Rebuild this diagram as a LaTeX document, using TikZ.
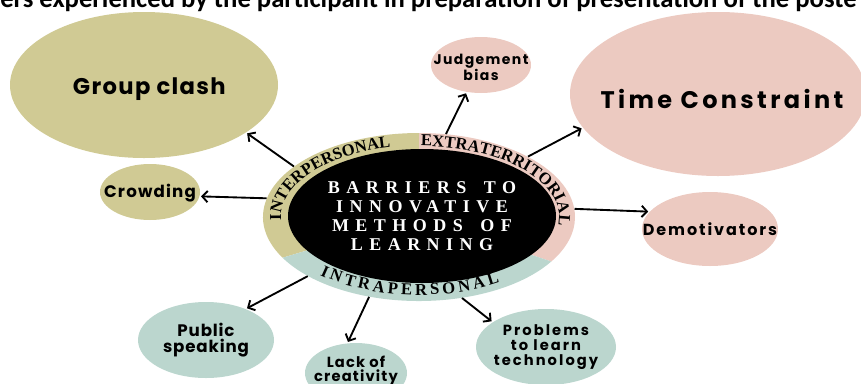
\documentclass[tikz,border=0pt]{standalone}
\usepackage{fontspec}
\setmainfont{Poppins}
\newfontfamily\serifring{Liberation Serif}
\newfontfamily\serifcore{Liberation Serif}[LetterSpace=36, WordSpace=1.6]
\newfontfamily\titlefont{Carlito}
\usetikzlibrary{shapes.geometric}
\usetikzlibrary{arrows.meta}
\usetikzlibrary{decorations.text}

\definecolor{khaki}{RGB}{208,202,148}
\definecolor{rose}{RGB}{236,202,193}
\definecolor{sage}{RGB}{187,214,206}

\newcommand\ringfont{\serifring\bfseries\fontsize{12.5pt}{12.5pt}\selectfont}
\newcommand\corefont{\serifcore\bfseries\fontsize{13.5pt}{14.25pt}\selectfont}
\newcommand\labelfont[3]{\bfseries\addfontfeature{LetterSpace=#3}\fontsize{#1}{#2}\selectfont}

\begin{document}
\begin{tikzpicture}[x=0.75pt, y=-0.75pt, bubble/.style={ellipse, inner sep=0pt}, inter/.style={bubble, fill=khaki}, extra/.style={bubble, fill=rose}, intra/.style={bubble, fill=sage}, tag/.style={align=center, inner sep=0pt}]
\tikzstyle{link}=[->, line width=1.4pt, shorten >=1pt]
\tikzstyle{ringtext}=[decorate, decoration={text along path, text align=center}]
\tikzset {>={Straight Barb[length=4pt,width=8.5pt]}}

\useasboundingbox (0,0) rectangle (861,383);

\node (title) [anchor=base west, inner sep=0pt, font=\titlefont\bfseries\fontsize{20pt}{20pt}\selectfont] at (0,7) {ers experienced by the participant in preparation of presentation of the poste};

% bubbles
\node (gclash) [inter, minimum width=201pt, minimum height=109.5pt, label={[tag, xshift=4pt, yshift=-3pt, font=\labelfont{17pt}{18pt}{6}]center:Group clash}] at (144,85) {};
\node (crowd) [inter, minimum width=75pt, minimum height=42pt, label={[tag, yshift=-1pt, font=\labelfont{12.5pt}{12pt}{7}]center:Crowding}] at (150,192) {};
\node (judge) [extra, minimum width=75pt, minimum height=42pt, label={[tag, yshift=-2pt, font=\labelfont{10.5pt}{9pt}{10}]center:{Judgement\\bias}}] at (481,65) {};
\node (time) [extra, minimum width=222pt, minimum height=123pt, label={[tag, xshift=3pt, yshift=-3.5pt, font=\labelfont{18pt}{18pt}{14}]center:Time Constraint}] at (718,94) {};
\node (demot) [extra, minimum width=102pt, minimum height=55.5pt, label={[tag, font=\labelfont{12pt}{12pt}{12}]center:Demotivators}] at (710,229) {};
\node (public) [intra, minimum width=102pt, minimum height=57pt, label={[tag, font=\labelfont{12.5pt}{12pt}{5}]center:{Public\\speaking}}] at (206,340) {};
\node (lack) [intra, minimum width=76.5pt, minimum height=45pt, label={[tag, yshift=2pt, font=\labelfont{11pt}{10.5pt}{8}]center:{Lack of\\creativity}}] at (356,373) {};
\node (problems) [intra, minimum width=105pt, minimum height=57pt, label={[tag, font=\labelfont{11pt}{11.25pt}{14}]center:{Problems\\to learn\\technology}}] at (546,347) {};

% ring
\node (ring) [ellipse, minimum width=234pt, minimum height=126pt, inner sep=0pt] at (419,217) {};
\fill [khaki] (ring.center) -- ({419+156*cos(151)},{217+84*sin(151)}) arc [start angle=151, end angle=270, x radius=156, y radius=84] -- cycle;
\fill [rose] (ring.center) -- ({419+156*cos(270)},{217+84*sin(270)}) arc [start angle=270, end angle=392, x radius=156, y radius=84] -- cycle;
\fill [sage] (ring.center) -- ({419+156*cos(32)},{217+84*sin(32)}) arc [start angle=32, end angle=151, x radius=156, y radius=84] -- cycle;
\node (core) [ellipse, fill=black, inner sep=0pt, minimum width=201pt, minimum height=100.5pt, text=white, align=center, font=\corefont] at (422,216) {BARRIERS TO\\INNOVATIVE\\METHODS OF\\LEARNING};

\path [ringtext, decoration={text={|\ringfont|INTERPERSONAL}}] ({419+138*cos(170)},{217+71*sin(170)}) arc [start angle=170, end angle=262, x radius=138, y radius=71];
\path [ringtext, decoration={text={|\ringfont|EXTRATERRITORIAL}}] ({419+140*cos(268)},{217+71*sin(268)}) arc [start angle=268, end angle=372, x radius=140, y radius=71];
\path [ringtext, decoration={text={|\ringfont|INTRAPERSONAL}, text align={fit to path}}] ({419+148*cos(132)},{217+78*sin(132)}) arc [start angle=132, end angle=57, x radius=148, y radius=78];

% arrows
\draw [link] (node cs:name=ring, angle=158.7) -- (node cs:name=gclash, angle=-25.7);
\draw [link] (node cs:name=ring, angle=173.2) -- (node cs:name=crowd, angle=-5.5);
\draw [link] (node cs:name=ring, angle=72.8) -- (node cs:name=judge, angle=-118);
\draw [link] (node cs:name=ring, angle=29.9) -- (node cs:name=time, angle=-166);
\draw [link] (node cs:name=ring, angle=3) -- (node cs:name=demot, angle=164.3);
\draw [link] (node cs:name=ring, angle=208.1) -- (node cs:name=public, angle=38);
\draw [link] (node cs:name=ring, angle=238.5) -- (node cs:name=lack, angle=106);
\draw [link] (node cs:name=ring, angle=-62.6) -- (node cs:name=problems, angle=155.2);
\end{tikzpicture}
\end{document}
